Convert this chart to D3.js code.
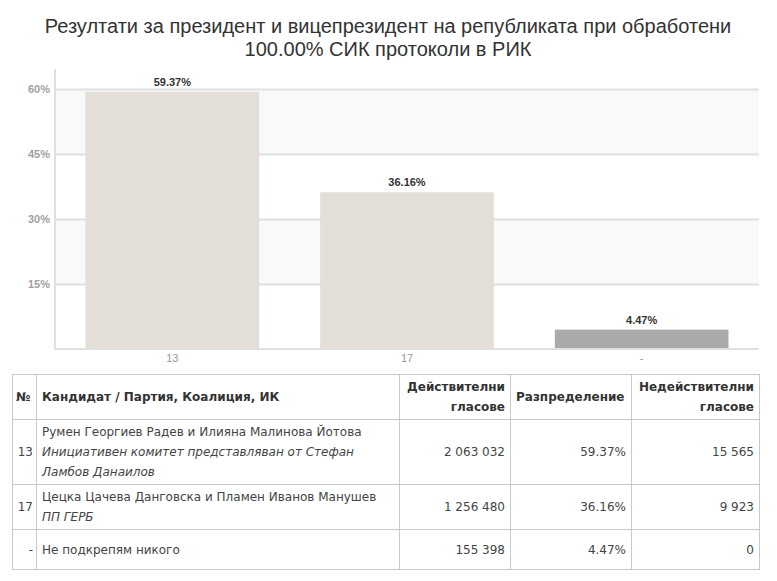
<!DOCTYPE html>
<html>
<head>
<meta charset="utf-8">
<script src="https://cdn.jsdelivr.net/npm/d3@7"></script>
<style>
  body { margin: 0; background: #fff; font-family: "Liberation Sans", Arial, sans-serif; }
  #wrap { position: relative; width: 777px; height: 581px; overflow: hidden; }
  svg { position: absolute; left: 0; top: 0; }
  table.res { position: absolute; left: 12px; top: 374px; width: 747px; border-collapse: collapse;
    font-family: "DejaVu Sans", Verdana, sans-serif; font-size: 12px; color: #444; table-layout: fixed; }
  table.res td, table.res th { border: 1px solid #c8c8c8; padding: 0 5px; line-height: 20px; }
  table.res th { color: #333; font-weight: bold; text-align: left; }
  table.res th.num, table.res td.num { text-align: right; }
  table.res td.no { text-align: right; padding: 0 3px; }
  table.res th.no { padding: 0 3px; }
  .party { font-style: italic; }
</style>
</head>
<body>
<div id="wrap">
  <svg id="chart" width="777" height="372"></svg>
</div>
<script>
// data
const codes = ["13", "17", "-"];
const shares = [59.37, 36.16, 4.47];
const barColors = ["#e3dfd8", "#e3dfd8", "#aaaaaa"];
const yTicks = [15, 30, 45, 60];
const titleLines = ["Резултати за президент и вицепрезидент на републиката при обработени",
                    "100.00% СИК протоколи в РИК"];

const headers = ["№", "Кандидат / Партия, Коалиция, ИК", "Действителни гласове", "Разпределение", "Недействителни гласове"];
const candidates = ["Румен Георгиев Радев и Илияна Малинова Йотова",
                    "Цецка Цачева Данговска и Пламен Иванов Манушев",
                    "Не подкрепям никого"];
const parties = ["Инициативен комитет представляван от Стефан Ламбов Данаилов", "ПП ГЕРБ", ""];
const validVotes = [2063032, 1256480, 155398];
const invalidVotes = [15565, 9923, 0];

const svg = d3.select("#chart");
const plotLeft = 55, plotRight = 759, plotTop = 69, plotBottom = 349;
const sans = "'Liberation Sans', Arial, sans-serif";

// title
svg.selectAll("text.title").data(titleLines)
    .enter().append("text")
    .attr("class", "title")
    .attr("x", 388)
    .attr("y", (d, i) => 33 + i * 23)
    .attr("text-anchor", "middle")
    .style("font-family", sans)
    .style("font-size", "20px")
    .attr("fill", "#333")
    .text(d => d);

const x = d3.scaleBand().domain(codes).range([plotLeft, plotRight]).paddingInner(0.26).paddingOuter(0.13);
const y = d3.scaleLinear().domain([0, 64.6]).range([plotBottom, plotTop]);

// alternating bands
const bands = [[45, 60], [15, 30]];
svg.selectAll("rect.band").data(bands)
    .enter().append("rect")
    .attr("class", "band")
    .attr("x", plotLeft)
    .attr("width", plotRight - plotLeft)
    .attr("y", d => y(d[1]))
    .attr("height", d => y(d[0]) - y(d[1]))
    .attr("fill", "#f9f9f9");

// gridlines + tick labels
const yAxis = d3.axisLeft(y).tickValues(yTicks).tickSize(-(plotRight - plotLeft)).tickFormat(d => d + "%");
const gy = svg.append("g").attr("transform", `translate(${plotLeft},0)`).call(yAxis);
gy.select(".domain").remove();
gy.selectAll(".tick line").attr("stroke", "#e0e0e0").attr("stroke-width", 2);
gy.selectAll(".tick text")
    .attr("x", -5)
    .attr("fill", "#a0a0a0")
    .style("font-family", sans)
    .style("font-size", "11px")
    .style("font-weight", "bold");

// bars
svg.selectAll("rect.bar").data(shares)
    .enter().append("rect")
    .attr("class", "bar")
    .attr("x", (d, i) => x(codes[i]))
    .attr("width", x.bandwidth())
    .attr("y", d => y(d))
    .attr("height", d => y(0) - y(d))
    .attr("fill", (d, i) => barColors[i]);

svg.selectAll("text.lbl").data(shares)
    .enter().append("text")
    .attr("class", "lbl")
    .attr("x", (d, i) => x(codes[i]) + x.bandwidth() / 2)
    .attr("y", d => y(d) - 6)
    .attr("text-anchor", "middle")
    .attr("fill", "#333")
    .style("font-family", sans)
    .style("font-size", "11px")
    .style("font-weight", "bold")
    .text(d => d.toFixed(2) + "%");

// axis lines
svg.append("line").attr("x1", plotLeft).attr("x2", plotLeft).attr("y1", plotTop).attr("y2", plotBottom + 1)
    .attr("stroke", "#e0e0e0").attr("stroke-width", 2);
svg.append("line").attr("x1", plotLeft).attr("x2", plotRight).attr("y1", plotBottom).attr("y2", plotBottom)
    .attr("stroke", "#e0e0e0").attr("stroke-width", 2);

const gx = svg.append("g").attr("transform", `translate(0,${plotBottom})`)
    .call(d3.axisBottom(x).tickSize(0).tickPadding(5));
gx.select(".domain").remove();
gx.selectAll(".tick text")
    .attr("fill", "#999")
    .style("font-family", sans)
    .style("font-size", "11px");

// table
const fmt = d3.formatLocale({ decimal: ".", thousands: "\u00a0", grouping: [3], currency: ["", ""] }).format(",d");
const colWidths = [24, 363, 111, 121, 128];
const table = d3.select("#wrap").append("table").attr("class", "res");
table.append("colgroup").selectAll("col").data(colWidths).enter().append("col").style("width", d => d + "px");

const head = table.append("tr").style("height", "45px");
head.selectAll("th").data(headers).enter().append("th")
    .attr("class", (d, i) => i === 0 ? "no" : (i === 2 || i === 4 ? "num" : null))
    .html((d, i) => (i === 2 || i === 4) ? d.replace(" ", "<br>") : d);

const rowHeights = [65, 45, 40];
const rows = table.selectAll("tr.row").data(codes).enter().append("tr")
    .attr("class", "row")
    .style("height", (d, i) => rowHeights[i] + "px");
rows.append("td").attr("class", "no").text(d => d);
rows.append("td").each(function(d, i) {
    const td = d3.select(this);
    td.append("div").text(candidates[i]);
    if (parties[i]) td.append("div").attr("class", "party").text(parties[i]);
});
rows.append("td").attr("class", "num").text((d, i) => fmt(validVotes[i]));
rows.append("td").attr("class", "num").text((d, i) => shares[i].toFixed(2) + "%");
rows.append("td").attr("class", "num").text((d, i) => fmt(invalidVotes[i]));
</script>
</body>
</html>
